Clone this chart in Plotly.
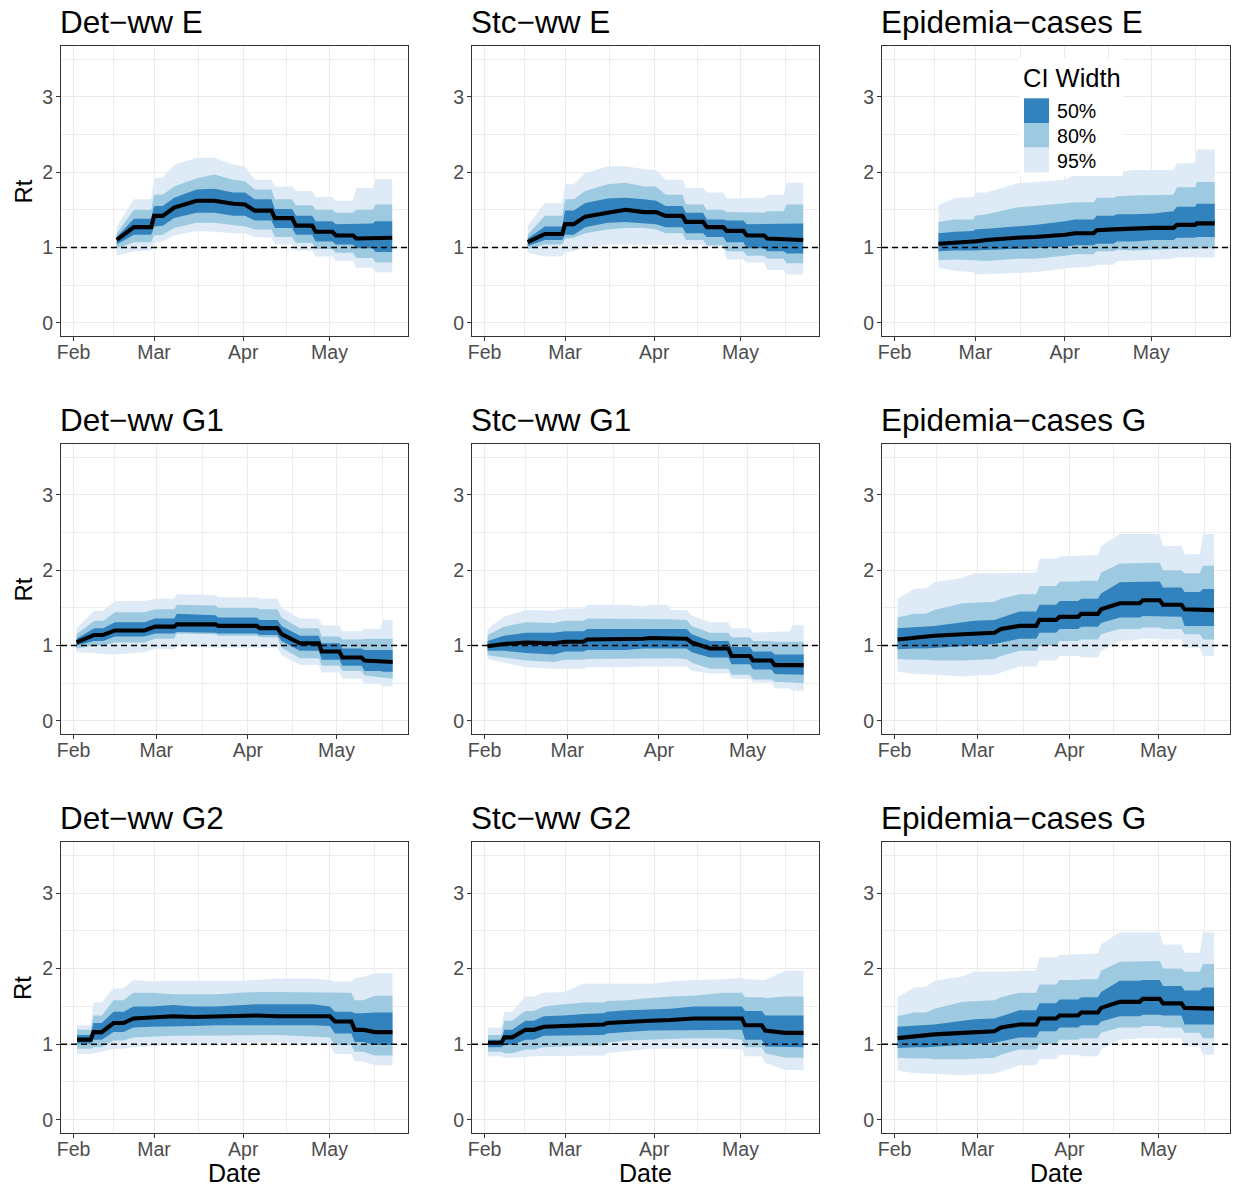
import datetime as dt
import plotly.graph_objects as go

BASE = dt.datetime(2021, 2, 1)

# ---------------- data (days since 1 Feb 2021, Rt values) ----------------
# Det-ww E
det_e_days = [15, 21, 27, 28, 31, 35, 42.8, 49, 55.5, 59.6, 63, 68.8, 70, 76, 77.3, 83, 84.2, 90, 91.2, 97.2, 98.3, 104, 105, 110.8]
det_e_med = [1.10, 1.27, 1.27, 1.42, 1.42, 1.53, 1.62, 1.62, 1.58, 1.57, 1.49, 1.49, 1.39, 1.39, 1.29, 1.29, 1.21, 1.21, 1.16, 1.16, 1.12, 1.12, 1.13, 1.13]
det_e_lo50 = [1.04, 1.17, 1.17, 1.28, 1.29, 1.39, 1.46, 1.46, 1.42, 1.42, 1.36, 1.36, 1.26, 1.26, 1.17, 1.17, 1.08, 1.08, 1.04, 1.04, 0.99, 0.99, 0.94, 0.94]
det_e_hi50 = [1.14, 1.38, 1.38, 1.55, 1.55, 1.66, 1.77, 1.78, 1.73, 1.73, 1.64, 1.64, 1.51, 1.51, 1.42, 1.42, 1.35, 1.35, 1.31, 1.31, 1.32, 1.32, 1.35, 1.35]
det_e_lo80 = [0.99, 1.07, 1.07, 1.16, 1.17, 1.26, 1.33, 1.33, 1.30, 1.28, 1.24, 1.24, 1.14, 1.14, 1.06, 1.06, 0.98, 0.98, 0.93, 0.93, 0.86, 0.86, 0.80, 0.80]
det_e_hi80 = [1.19, 1.50, 1.50, 1.70, 1.70, 1.81, 1.92, 1.97, 1.90, 1.88, 1.77, 1.77, 1.64, 1.64, 1.56, 1.56, 1.50, 1.50, 1.46, 1.46, 1.50, 1.50, 1.57, 1.57]
det_e_lo95 = [0.89, 0.95, 0.96, 1.06, 1.08, 1.16, 1.22, 1.21, 1.19, 1.19, 1.14, 1.13, 1.04, 1.04, 0.96, 0.96, 0.88, 0.88, 0.82, 0.82, 0.73, 0.73, 0.67, 0.67]
det_e_hi95 = [1.28, 1.64, 1.64, 1.92, 1.93, 2.10, 2.19, 2.19, 2.10, 2.08, 1.90, 1.90, 1.81, 1.81, 1.75, 1.75, 1.67, 1.67, 1.62, 1.62, 1.79, 1.79, 1.91, 1.91]

# Stc-ww E
stc_e_days = det_e_days
stc_e_med = [1.07, 1.18, 1.18, 1.31, 1.31, 1.41, 1.46, 1.50, 1.47, 1.47, 1.42, 1.42, 1.34, 1.34, 1.27, 1.27, 1.22, 1.22, 1.16, 1.16, 1.12, 1.11, 1.10, 1.10]
stc_e_lo50 = [1.02, 1.10, 1.10, 1.17, 1.17, 1.27, 1.33, 1.34, 1.32, 1.31, 1.27, 1.27, 1.19, 1.19, 1.14, 1.14, 1.07, 1.07, 0.99, 0.99, 0.95, 0.95, 0.92, 0.92]
stc_e_hi50 = [1.12, 1.28, 1.28, 1.49, 1.49, 1.59, 1.65, 1.66, 1.64, 1.62, 1.55, 1.55, 1.46, 1.46, 1.37, 1.37, 1.36, 1.36, 1.31, 1.31, 1.31, 1.31, 1.32, 1.32]
stc_e_lo80 = [0.98, 1.04, 1.04, 1.12, 1.13, 1.19, 1.24, 1.26, 1.26, 1.24, 1.19, 1.19, 1.10, 1.10, 1.03, 1.03, 0.95, 0.95, 0.89, 0.89, 0.85, 0.85, 0.79, 0.79]
stc_e_hi80 = [1.17, 1.42, 1.42, 1.64, 1.64, 1.75, 1.84, 1.86, 1.81, 1.81, 1.70, 1.70, 1.57, 1.57, 1.50, 1.50, 1.47, 1.47, 1.46, 1.46, 1.48, 1.48, 1.57, 1.57]
stc_e_lo95 = [0.93, 0.88, 0.88, 0.94, 0.95, 1.00, 1.04, 1.04, 1.04, 1.03, 1.03, 1.03, 1.03, 1.03, 1.00, 1.00, 0.84, 0.84, 0.80, 0.80, 0.70, 0.70, 0.64, 0.64]
stc_e_hi95 = [1.29, 1.59, 1.59, 1.84, 1.84, 1.99, 2.08, 2.08, 2.04, 2.03, 1.90, 1.90, 1.79, 1.79, 1.73, 1.73, 1.65, 1.65, 1.66, 1.66, 1.70, 1.70, 1.86, 1.86]

# Epidemia-cases E
epi_e_days = [15.2, 20.9, 27.3, 27.9, 31.9, 42.3, 48.7, 59.1, 62.6, 69.0, 70.1, 75.9, 77.1, 82.8, 89.8, 96.7, 97.9, 104.2, 104.8, 111]
epi_e_med = [1.05, 1.07, 1.08, 1.08, 1.10, 1.13, 1.14, 1.17, 1.19, 1.19, 1.23, 1.24, 1.24, 1.25, 1.26, 1.26, 1.30, 1.30, 1.32, 1.32]
epi_e_lo50 = [0.95, 0.96, 0.96, 0.96, 0.96, 0.98, 0.99, 1.01, 1.03, 1.03, 1.05, 1.05, 1.08, 1.08, 1.10, 1.10, 1.13, 1.13, 1.14, 1.14]
epi_e_hi50 = [1.19, 1.21, 1.22, 1.24, 1.25, 1.28, 1.30, 1.35, 1.37, 1.37, 1.42, 1.42, 1.44, 1.44, 1.45, 1.48, 1.54, 1.54, 1.58, 1.58]
epi_e_lo80 = [0.83, 0.84, 0.83, 0.82, 0.82, 0.85, 0.85, 0.89, 0.91, 0.91, 0.95, 0.95, 0.97, 0.96, 0.97, 0.98, 0.99, 0.99, 0.99, 0.99]
epi_e_hi80 = [1.34, 1.37, 1.37, 1.42, 1.44, 1.53, 1.55, 1.59, 1.60, 1.60, 1.66, 1.66, 1.68, 1.69, 1.70, 1.70, 1.80, 1.80, 1.87, 1.87]
epi_e_lo95 = [0.73, 0.69, 0.67, 0.64, 0.65, 0.66, 0.67, 0.72, 0.73, 0.75, 0.77, 0.77, 0.82, 0.83, 0.84, 0.85, 0.87, 0.87, 0.87, 0.87]
epi_e_hi95 = [1.56, 1.66, 1.67, 1.73, 1.73, 1.85, 1.87, 1.90, 1.97, 1.97, 1.96, 1.96, 2.00, 2.03, 2.03, 2.03, 2.12, 2.12, 2.30, 2.30]

# Det-ww G1
det_g1_days = [1, 7, 10, 14, 24, 27.6, 34, 35, 48, 49, 62, 63, 69, 70.4, 76.6, 83, 84, 90, 91, 97.5, 98.5, 103.7, 104.8, 108]
det_g1_med = [1.04, 1.14, 1.14, 1.20, 1.20, 1.25, 1.25, 1.28, 1.28, 1.26, 1.26, 1.23, 1.23, 1.15, 1.03, 1.03, 0.92, 0.92, 0.84, 0.84, 0.80, 0.79, 0.79, 0.78]
det_g1_lo50 = [1.00, 1.06, 1.06, 1.12, 1.12, 1.16, 1.16, 1.18, 1.17, 1.16, 1.16, 1.14, 1.14, 1.06, 0.93, 0.93, 0.81, 0.81, 0.73, 0.73, 0.66, 0.66, 0.65, 0.65]
det_g1_hi50 = [1.09, 1.23, 1.23, 1.31, 1.31, 1.36, 1.36, 1.42, 1.40, 1.37, 1.37, 1.34, 1.34, 1.26, 1.13, 1.13, 1.03, 1.03, 0.96, 0.96, 0.94, 0.94, 0.94, 0.94]
det_g1_lo80 = [0.96, 1.00, 1.00, 1.04, 1.04, 1.09, 1.09, 1.16, 1.15, 1.13, 1.13, 1.11, 1.11, 0.97, 0.83, 0.83, 0.73, 0.73, 0.66, 0.66, 0.60, 0.58, 0.57, 0.56]
det_g1_hi80 = [1.15, 1.33, 1.33, 1.44, 1.44, 1.48, 1.48, 1.54, 1.53, 1.50, 1.50, 1.48, 1.48, 1.37, 1.23, 1.23, 1.12, 1.12, 1.08, 1.08, 1.09, 1.09, 1.09, 1.09]
det_g1_lo95 = [0.91, 0.90, 0.89, 0.88, 0.91, 0.96, 0.95, 0.99, 0.97, 0.97, 0.97, 0.97, 0.97, 0.87, 0.74, 0.74, 0.64, 0.64, 0.56, 0.56, 0.49, 0.49, 0.46, 0.46]
det_g1_hi95 = [1.23, 1.46, 1.46, 1.59, 1.59, 1.62, 1.62, 1.68, 1.67, 1.64, 1.64, 1.62, 1.62, 1.50, 1.36, 1.36, 1.27, 1.27, 1.19, 1.19, 1.22, 1.22, 1.34, 1.34]

# Stc-ww G1
stc_g1_days = [1, 6.5, 14, 23.5, 27.3, 33.5, 34.7, 47.6, 53.8, 56, 62, 63, 68.4, 70.1, 76.3, 82.5, 83.6, 89.8, 90.9, 97.1, 98.2, 103.3, 104.4, 108]
stc_g1_med = [0.99, 1.02, 1.04, 1.03, 1.05, 1.05, 1.08, 1.08, 1.09, 1.10, 1.10, 1.10, 1.09, 1.04, 0.96, 0.96, 0.86, 0.86, 0.80, 0.80, 0.74, 0.74, 0.74, 0.74]
stc_g1_lo50 = [0.93, 0.93, 0.90, 0.88, 0.92, 0.92, 0.94, 0.94, 0.96, 0.96, 0.96, 0.96, 0.96, 0.91, 0.84, 0.84, 0.75, 0.75, 0.68, 0.68, 0.62, 0.62, 0.61, 0.61]
stc_g1_hi50 = [1.06, 1.13, 1.17, 1.17, 1.19, 1.19, 1.22, 1.22, 1.22, 1.23, 1.23, 1.23, 1.22, 1.15, 1.06, 1.06, 0.98, 0.98, 0.92, 0.92, 0.88, 0.88, 0.88, 0.88]
stc_g1_lo80 = [0.87, 0.84, 0.80, 0.78, 0.81, 0.81, 0.82, 0.82, 0.83, 0.83, 0.83, 0.83, 0.82, 0.77, 0.69, 0.69, 0.61, 0.61, 0.55, 0.55, 0.52, 0.51, 0.51, 0.50]
stc_g1_hi80 = [1.14, 1.25, 1.31, 1.30, 1.33, 1.33, 1.36, 1.36, 1.35, 1.36, 1.36, 1.35, 1.34, 1.26, 1.17, 1.17, 1.11, 1.11, 1.06, 1.06, 1.05, 1.05, 1.05, 1.05]
stc_g1_lo95 = [0.82, 0.77, 0.71, 0.69, 0.69, 0.69, 0.71, 0.71, 0.72, 0.72, 0.72, 0.72, 0.72, 0.66, 0.63, 0.63, 0.56, 0.56, 0.51, 0.51, 0.43, 0.43, 0.40, 0.40]
stc_g1_hi95 = [1.22, 1.38, 1.47, 1.46, 1.49, 1.49, 1.54, 1.54, 1.52, 1.54, 1.54, 1.47, 1.47, 1.40, 1.31, 1.31, 1.23, 1.23, 1.17, 1.18, 1.19, 1.19, 1.27, 1.27]

# Epidemia-cases G
epi_g_days = [1, 6.6, 10.6, 13.4, 23, 26.9, 33.7, 35.9, 42.1, 47.8, 48.9, 54.5, 55.7, 61.9, 63.0, 68.6, 69.7, 76.0, 82.7, 83.8, 89.5, 90.6, 96.8, 97.9, 103.0, 104.1, 107.8]
epi_g_med = [1.08, 1.10, 1.11, 1.13, 1.15, 1.16, 1.17, 1.22, 1.26, 1.26, 1.34, 1.34, 1.38, 1.38, 1.42, 1.42, 1.48, 1.56, 1.56, 1.60, 1.60, 1.54, 1.54, 1.48, 1.48, 1.47, 1.47]
epi_g_lo50 = [0.95, 0.96, 0.96, 0.97, 0.99, 1.00, 1.02, 1.04, 1.09, 1.09, 1.17, 1.17, 1.22, 1.22, 1.25, 1.25, 1.30, 1.37, 1.37, 1.39, 1.39, 1.38, 1.38, 1.26, 1.26, 1.26, 1.26]
epi_g_hi50 = [1.23, 1.24, 1.25, 1.26, 1.31, 1.33, 1.34, 1.37, 1.45, 1.45, 1.54, 1.54, 1.59, 1.59, 1.62, 1.62, 1.69, 1.84, 1.84, 1.85, 1.85, 1.77, 1.77, 1.71, 1.71, 1.75, 1.75]
epi_g_lo80 = [0.82, 0.81, 0.81, 0.80, 0.80, 0.81, 0.82, 0.86, 0.93, 0.93, 1.00, 1.00, 1.06, 1.06, 1.08, 1.08, 1.15, 1.22, 1.22, 1.24, 1.24, 1.22, 1.22, 1.15, 1.15, 1.08, 1.08]
epi_g_hi80 = [1.37, 1.42, 1.42, 1.47, 1.56, 1.57, 1.58, 1.62, 1.68, 1.68, 1.79, 1.79, 1.85, 1.85, 1.86, 1.86, 1.97, 2.09, 2.09, 2.10, 2.10, 2.00, 2.00, 1.96, 1.96, 2.06, 2.06]
epi_g_lo95 = [0.65, 0.62, 0.61, 0.61, 0.59, 0.60, 0.61, 0.64, 0.72, 0.72, 0.80, 0.80, 0.86, 0.86, 0.84, 0.84, 0.93, 1.06, 1.08, 1.09, 1.09, 1.08, 1.08, 0.97, 0.97, 0.86, 0.86]
epi_g_hi95 = [1.62, 1.75, 1.76, 1.84, 1.90, 1.96, 1.96, 1.96, 1.97, 1.97, 2.15, 2.15, 2.18, 2.19, 2.20, 2.20, 2.32, 2.48, 2.48, 2.48, 2.48, 2.32, 2.32, 2.21, 2.21, 2.48, 2.48]

# Det-ww G2
det_g2_days = [1.2, 6, 6.9, 9.8, 13.9, 17.4, 20.8, 27.2, 34.7, 41.7, 49.8, 57.9, 63.7, 70.6, 83.3, 89.1, 90.9, 96.6, 97.8, 100.7, 104.7, 110.9]
det_g2_med = [1.06, 1.06, 1.16, 1.16, 1.28, 1.28, 1.34, 1.35, 1.37, 1.36, 1.37, 1.37, 1.38, 1.37, 1.37, 1.37, 1.30, 1.30, 1.19, 1.19, 1.16, 1.16]
det_g2_lo50 = [1.01, 1.01, 1.06, 1.06, 1.16, 1.16, 1.22, 1.23, 1.24, 1.24, 1.25, 1.25, 1.25, 1.25, 1.25, 1.24, 1.14, 1.14, 1.03, 1.03, 0.99, 0.99]
det_g2_hi50 = [1.12, 1.12, 1.28, 1.28, 1.43, 1.43, 1.50, 1.50, 1.52, 1.50, 1.50, 1.52, 1.53, 1.53, 1.53, 1.50, 1.43, 1.43, 1.41, 1.41, 1.42, 1.42]
det_g2_lo80 = [0.94, 0.94, 0.96, 0.96, 1.05, 1.05, 1.09, 1.10, 1.11, 1.11, 1.12, 1.12, 1.12, 1.12, 1.10, 1.09, 0.99, 0.99, 0.90, 0.90, 0.85, 0.85]
det_g2_hi80 = [1.19, 1.19, 1.38, 1.38, 1.58, 1.58, 1.68, 1.68, 1.66, 1.66, 1.66, 1.68, 1.69, 1.69, 1.69, 1.68, 1.68, 1.68, 1.58, 1.58, 1.64, 1.64]
det_g2_lo95 = [0.87, 0.87, 0.88, 0.90, 0.94, 0.94, 0.96, 0.97, 0.99, 0.99, 1.01, 1.02, 1.02, 1.02, 1.00, 0.99, 0.87, 0.87, 0.77, 0.77, 0.72, 0.72]
det_g2_hi95 = [1.25, 1.25, 1.55, 1.55, 1.74, 1.74, 1.85, 1.83, 1.84, 1.84, 1.84, 1.84, 1.85, 1.87, 1.87, 1.85, 1.83, 1.83, 1.88, 1.89, 1.94, 1.94]

# Stc-ww G2
stc_g2_days = [1.2, 5.8, 6.9, 9.6, 14.2, 17.1, 20.6, 27.5, 34.5, 41.4, 42.6, 49.5, 57.6, 64.6, 72.7, 83.1, 89.5, 90.6, 96.4, 97.6, 104.5, 110.9]
stc_g2_med = [1.02, 1.02, 1.09, 1.09, 1.19, 1.19, 1.23, 1.24, 1.26, 1.26, 1.28, 1.30, 1.31, 1.32, 1.34, 1.34, 1.34, 1.25, 1.25, 1.18, 1.15, 1.15]
stc_g2_lo50 = [0.96, 0.96, 0.99, 0.99, 1.06, 1.06, 1.11, 1.12, 1.12, 1.12, 1.14, 1.16, 1.18, 1.19, 1.19, 1.19, 1.19, 1.06, 1.06, 0.97, 0.96, 0.96]
stc_g2_hi50 = [1.06, 1.06, 1.19, 1.19, 1.31, 1.31, 1.37, 1.38, 1.40, 1.41, 1.43, 1.45, 1.46, 1.47, 1.50, 1.50, 1.50, 1.44, 1.44, 1.38, 1.38, 1.38]
stc_g2_lo80 = [0.90, 0.90, 0.88, 0.88, 0.93, 0.93, 0.96, 0.97, 0.98, 0.98, 1.02, 1.05, 1.06, 1.07, 1.08, 1.08, 1.06, 0.96, 0.96, 0.88, 0.82, 0.82]
stc_g2_hi80 = [1.12, 1.12, 1.31, 1.31, 1.44, 1.44, 1.50, 1.53, 1.55, 1.55, 1.57, 1.58, 1.61, 1.63, 1.64, 1.68, 1.68, 1.62, 1.62, 1.61, 1.63, 1.63]
stc_g2_lo95 = [0.84, 0.84, 0.82, 0.82, 0.83, 0.84, 0.84, 0.85, 0.85, 0.85, 0.88, 0.91, 0.94, 0.94, 0.94, 0.94, 0.93, 0.84, 0.84, 0.75, 0.66, 0.66]
stc_g2_hi95 = [1.22, 1.22, 1.43, 1.43, 1.63, 1.63, 1.68, 1.69, 1.80, 1.80, 1.80, 1.80, 1.80, 1.83, 1.85, 1.86, 1.88, 1.86, 1.86, 1.85, 1.97, 1.97]

panel_titles = ["Det\u2212ww E", "Stc\u2212ww E", "Epidemia\u2212cases E",
                "Det\u2212ww G1", "Stc\u2212ww G1", "Epidemia\u2212cases G",
                "Det\u2212ww G2", "Stc\u2212ww G2", "Epidemia\u2212cases G"]
ci_labels = ["50%", "80%", "95%"]
month_ticks = ["2021-02-01", "2021-03-01", "2021-04-01", "2021-05-01"]
month_labels = ["Feb", "Mar", "Apr", "May"]
minor_ticks = ["2021-02-15", "2021-03-16 12:00", "2021-04-16", "2021-05-16 12:00"]
y_ticks = [0, 1, 2, 3]

# ---------------- styling ----------------
C50, C80, C95 = "#3182BD", "#9ECAE1", "#DEEBF7"
FONT = "Liberation Sans, Arial, Helvetica, sans-serif"
W, H = 1235, 1188
COLS = [(61, 408), (472, 819), (882, 1230)]
ROWS = [(46, 336), (444, 734), (842, 1133)]
RANGE_A = (-4.37, 116.3)
RANGE_B = (-4.26, 113.2)


def to_date(d):
    return (BASE + dt.timedelta(days=d)).strftime("%Y-%m-%d %H:%M:%S")


panel_series = [
    (det_e_days, det_e_med, det_e_lo50, det_e_hi50, det_e_lo80, det_e_hi80, det_e_lo95, det_e_hi95, RANGE_A),
    (stc_e_days, stc_e_med, stc_e_lo50, stc_e_hi50, stc_e_lo80, stc_e_hi80, stc_e_lo95, stc_e_hi95, RANGE_A),
    (epi_e_days, epi_e_med, epi_e_lo50, epi_e_hi50, epi_e_lo80, epi_e_hi80, epi_e_lo95, epi_e_hi95, RANGE_A),
    (det_g1_days, det_g1_med, det_g1_lo50, det_g1_hi50, det_g1_lo80, det_g1_hi80, det_g1_lo95, det_g1_hi95, RANGE_B),
    (stc_g1_days, stc_g1_med, stc_g1_lo50, stc_g1_hi50, stc_g1_lo80, stc_g1_hi80, stc_g1_lo95, stc_g1_hi95, RANGE_B),
    (epi_g_days, epi_g_med, epi_g_lo50, epi_g_hi50, epi_g_lo80, epi_g_hi80, epi_g_lo95, epi_g_hi95, RANGE_B),
    (det_g2_days, det_g2_med, det_g2_lo50, det_g2_hi50, det_g2_lo80, det_g2_hi80, det_g2_lo95, det_g2_hi95, RANGE_A),
    (stc_g2_days, stc_g2_med, stc_g2_lo50, stc_g2_hi50, stc_g2_lo80, stc_g2_hi80, stc_g2_lo95, stc_g2_hi95, RANGE_A),
    (epi_g_days, epi_g_med, epi_g_lo50, epi_g_hi50, epi_g_lo80, epi_g_hi80, epi_g_lo95, epi_g_hi95, RANGE_B),
]

fig = go.Figure()
layout = dict(
    template="none",
    width=W, height=H, autosize=False,
    margin=dict(l=0, r=0, t=0, b=0, pad=0),
    paper_bgcolor="white", plot_bgcolor="white",
    showlegend=False,
    font=dict(family=FONT, color="black"),
)
shapes = []
annotations = []

for i, (days, med, lo50, hi50, lo80, hi80, lo95, hi95, xr) in enumerate(panel_series):
    r, c = divmod(i, 3)
    n = i + 1
    key = "" if n == 1 else str(n)
    xa, ya = "x" + key, "y" + key
    xs = [to_date(d) for d in days]
    for lo, hi, col in ((lo95, hi95, C95), (lo80, hi80, C80), (lo50, hi50, C50)):
        fig.add_trace(go.Scatter(
            x=xs + xs[::-1], y=hi + lo[::-1], fill="toself", fillcolor=col,
            line=dict(width=0, color=col), mode="lines", hoverinfo="skip",
            xaxis=xa, yaxis=ya))
    fig.add_trace(go.Scatter(x=xs, y=med, mode="lines",
                             line=dict(color="black", width=4.1),
                             xaxis=xa, yaxis=ya))

    x0, x1 = COLS[c]
    y0, y1 = ROWS[r]
    layout["xaxis" + key] = dict(
        domain=[x0 / W, x1 / W], anchor=ya, type="date", automargin=False,
        range=[to_date(xr[0]), to_date(xr[1])],
        tickmode="array", tickvals=month_ticks, ticktext=month_labels,
        ticks="outside", ticklen=4, tickwidth=1.1, tickcolor="#333333",
        tickfont=dict(size=19.5, color="#4D4D4D", family=FONT),
        ticklabelstandoff=-6,
        showgrid=True, gridcolor="#EBEBEB", gridwidth=1.2,
        minor=dict(tickvals=minor_ticks, showgrid=True, gridcolor="#EDEDED",
                   gridwidth=0.7, ticks=""),
        showline=True, linecolor="#333333", linewidth=1.2, mirror=True,
        zeroline=False, fixedrange=True,
    )
    layout["yaxis" + key] = dict(
        domain=[1 - y1 / H, 1 - y0 / H], anchor=xa, automargin=False,
        range=[-0.175, 3.675],
        tickmode="array", tickvals=y_ticks, ticktext=[str(v) for v in y_ticks],
        ticks="outside", ticklen=4, tickwidth=1.1, tickcolor="#333333",
        tickfont=dict(size=19.5, color="#4D4D4D", family=FONT),
        ticklabelstandoff=-1,
        showgrid=True, gridcolor="#EBEBEB", gridwidth=1.2,
        minor=dict(tickvals=[0.5, 1.5, 2.5, 3.5], showgrid=True,
                   gridcolor="#EDEDED", gridwidth=0.7, ticks=""),
        showline=True, linecolor="#333333", linewidth=1.2, mirror=True,
        zeroline=False, fixedrange=True,
    )
    shapes.append(dict(type="line", xref=f"{xa} domain", yref=ya,
                       x0=0, x1=1, y0=1, y1=1, layer="above",
                       line=dict(color="black", width=1.5, dash="6px,4px")))
    annotations.append(dict(text=panel_titles[i], xref="paper", yref="paper",
                            x=(x0 - 3) / W, y=1 - (y0 - 24) / H, xanchor="left",
                            yanchor="middle", showarrow=False,
                            font=dict(size=31.5, color="black", family=FONT)))
    if c == 0:
        annotations.append(dict(text="Rt", xref="paper", yref="paper",
                                x=22.5 / W, y=1 - ((y0 + y1) / 2) / H,
                                xanchor="center", yanchor="middle",
                                textangle=-90, showarrow=False,
                                font=dict(size=24, color="black", family=FONT)))
    if r == 2:
        annotations.append(dict(text="Date", xref="paper", yref="paper",
                                x=((x0 + x1) / 2) / W, y=1 - 1172.5 / H,
                                xanchor="center", yanchor="middle",
                                showarrow=False,
                                font=dict(size=25, color="black", family=FONT)))

# ---------------- legend (CI Width) ----------------
shapes.append(dict(type="rect", xref="paper", yref="paper",
                   x0=1019 / W, x1=1123 / W, y0=1 - 176 / H, y1=1 - 58 / H,
                   fillcolor="white", line=dict(width=0), layer="above"))
annotations.append(dict(text="CI Width", xref="paper", yref="paper",
                        x=1021 / W, y=1 - 78.5 / H, xanchor="left",
                        yanchor="middle", showarrow=False,
                        font=dict(size=25.5, color="black", family=FONT)))
key_top = 98.3
key_h = 24.7
for k, (lab, col) in enumerate(zip(ci_labels, (C50, C80, C95))):
    t = key_top + k * key_h
    shapes.append(dict(type="rect", xref="paper", yref="paper",
                       x0=1024 / W, x1=1049 / W, y0=1 - (t + key_h) / H, y1=1 - t / H,
                       fillcolor=col, line=dict(width=0), layer="above"))
    annotations.append(dict(text=lab, xref="paper", yref="paper",
                            x=1055 / W, y=1 - (t + key_h / 2 + 0.5) / H,
                            xanchor="left", yanchor="middle", showarrow=False,
                            font=dict(size=19.6, color="black", family=FONT)))

layout["shapes"] = shapes
layout["annotations"] = annotations
fig.update_layout(**layout)
fig.write_html("out.html", config={"displayModeBar": False},
               post_script="document.body.style.margin='0';document.body.style.padding='0';")
